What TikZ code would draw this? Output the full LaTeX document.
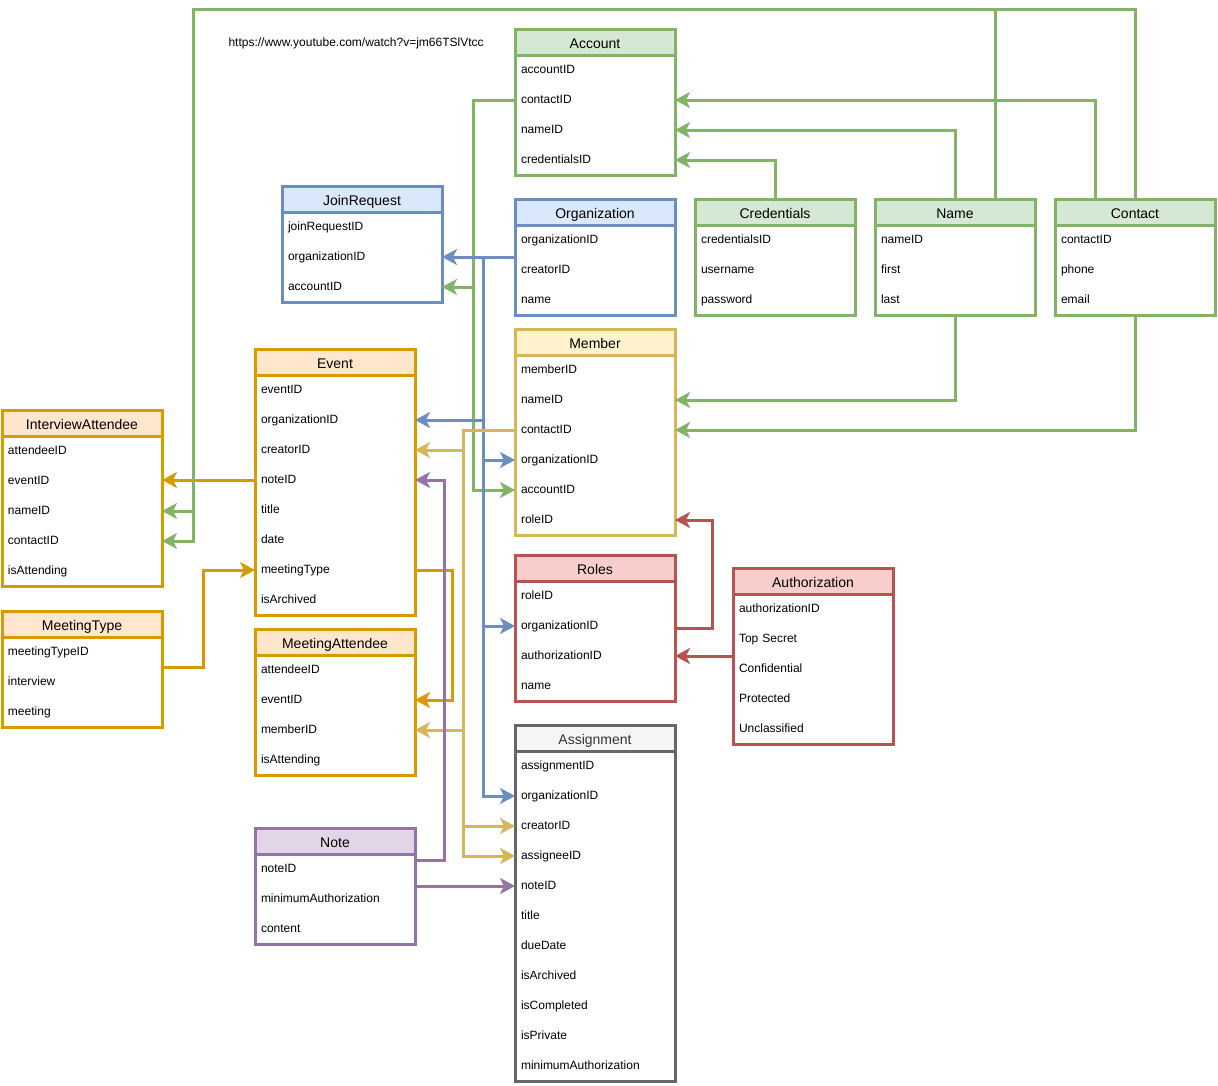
\documentclass[tikz,border=0pt]{standalone}
\usepackage{fontspec}
\setmainfont{Liberation Sans}
\usetikzlibrary{calc,arrows.meta}

\definecolor{grnLine}{HTML}{82B366}\definecolor{grnFill}{HTML}{D5E8D4}\colorlet{grnText}{black}
\definecolor{bluLine}{HTML}{6C8EBF}\definecolor{bluFill}{HTML}{DAE8FC}\colorlet{bluText}{black}
\definecolor{ylwLine}{HTML}{D6B656}\definecolor{ylwFill}{HTML}{FFF2CC}\colorlet{ylwText}{black}
\definecolor{ornLine}{HTML}{D79B00}\definecolor{ornFill}{HTML}{FFE6CC}\colorlet{ornText}{black}
\definecolor{redLine}{HTML}{B85450}\definecolor{redFill}{HTML}{F8CECC}\colorlet{redText}{black}
\definecolor{prpLine}{HTML}{9673A6}\definecolor{prpFill}{HTML}{E1D5E7}\colorlet{prpText}{black}
\definecolor{gryLine}{HTML}{666666}\definecolor{gryFill}{HTML}{F5F5F5}\definecolor{gryText}{HTML}{333333}

\tikzset{
  hdr/.style={draw=#1Line, fill=#1Fill, text=#1Text, line width=3pt, minimum width=160pt,
    minimum height=26pt, inner sep=0pt, outer sep=0pt, text height=12pt, text depth=0pt,
    font=\fontsize{14}{16}\selectfont},
  fld/.style={minimum width=160pt, minimum height=30pt, text width=148pt, inner xsep=6pt,
    inner ysep=0pt, outer sep=0pt, text height=9pt, text depth=3pt, align=left,
    font=\fontsize{12}{14}\selectfont},
  trunk/.style={draw=#1Line, line width=3pt},
  link/.style={trunk=#1, -{Stealth[length=15pt,width=16pt,inset=4pt]}}
}

% table: name, top left, colour, title, fields
\newcommand{\entity}[5]{%
  \node[hdr=#3, anchor=north west] (#1) at (#2) {#4};
  \foreach \fld [count=\i] in {#5} {
    \node[fld, anchor=north] (#1-\i) at ($(#1.south)+(0,{(\i-1)*30})$) {\fld};
    \xdef\nrows{\i}
  }
  \draw[line width=3pt, draw=#3Line] (#1.north west) rectangle (#1-\nrows.south east);
}

\begin{document}
\begin{tikzpicture}[x=1pt,y=-1pt]
\useasboundingbox (0,0) rectangle (1218,1085);

\node[anchor=west, font=\fontsize{12}{14}\selectfont] (url) at (225,43) {https://www.youtube.com/watch?v=jm66TSlVtcc};

% tables
\entity{account}{515,29}{grn}{Account}{accountID,contactID,nameID,credentialsID}
\entity{joinreq}{282,186}{blu}{JoinRequest}{joinRequestID,organizationID,accountID}
\entity{org}{515,199}{blu}{Organization}{organizationID,creatorID,name}
\entity{cred}{695,199}{grn}{Credentials}{credentialsID,username,password}
\entity{name}{875,199}{grn}{Name}{nameID,first,last}
\entity{contact}{1055,199}{grn}{Contact}{contactID,phone,email}
\entity{member}{515,329}{ylw}{Member}{memberID,nameID,contactID,organizationID,accountID,roleID}
\entity{event}{255,349}{orn}{Event}{eventID,organizationID,creatorID,noteID,title,date,meetingType,isArchived}
\entity{intatt}{2,410}{orn}{InterviewAttendee}{attendeeID,eventID,nameID,contactID,isAttending}
\entity{mtype}{2,611}{orn}{MeetingType}{meetingTypeID,interview,meeting}
\entity{meetatt}{255,629}{orn}{MeetingAttendee}{attendeeID,eventID,memberID,isAttending}
\entity{roles}{515,555}{red}{Roles}{roleID,organizationID,authorizationID,name}
\entity{auth}{733,568}{red}{Authorization}{authorizationID,Top Secret,Confidential,Protected,Unclassified}
\entity{assign}{515,725}{gry}{Assignment}{assignmentID,organizationID,creatorID,assigneeID,noteID,title,dueDate,isArchived,isCompleted,isPrivate,minimumAuthorization}
\entity{note}{255,828}{prp}{Note}{noteID,minimumAuthorization,content}

% bus lines
\coordinate (gbus) at (473,0);
\coordinate (bbus) at (483,0);
\coordinate (ybus) at (463,0);
\coordinate (gtop) at (193,9);

% green
\draw[link=grn] (account-2.west) -| (gbus |- joinreq-3) -- (joinreq-3.east);
\draw[link=grn] (gbus |- joinreq-3) |- (member-5.west);
\draw[link=grn] (cred.north) |- (account-4.east);
\draw[link=grn] (name.north) |- (account-3.east);
\draw[link=grn] ($(contact.north)+(-40,0)$) |- (account-2.east);
\draw[link=grn] ($(name.north)+(40,0)$) |- (gtop) |- (intatt-3.east);
\draw[link=grn] (contact.north) |- (gtop) |- (intatt-4.east);
\draw[link=grn] (name-3.south) |- (member-2.east);
\draw[link=grn] (contact-3.south) |- (member-3.east);

% blue
\draw[link=blu] (org.west |- joinreq-2) -- (joinreq-2.east);
\draw[link=blu] (bbus |- joinreq-2) |- (assign-2.west);
\draw[link=blu] (bbus |- event-2) -- (event-2.east);
\draw[link=blu] (bbus |- member-4) -- (member-4.west);
\draw[link=blu] (bbus |- roles-2) -- (roles-2.west);

% yellow
\draw[link=ylw] (member-3.west) -| (ybus |- assign-4) -- (assign-4.west);
\draw[link=ylw] (ybus |- event-3) -- (event-3.east);
\draw[link=ylw] (ybus |- meetatt-3) -- (meetatt-3.east);
\draw[link=ylw] (ybus |- assign-3) -- (assign-3.west);

% orange
\draw[link=orn] (event-4.west) -- (event-4.west -| intatt-2.east);
\draw[link=orn] (mtype-1.south east) -- ++(41,0) |- (event-7.west);
\draw[link=orn] (event-7.east) -- ++(37,0) |- (meetatt-2.east);

% purple
\draw[link=prp] ($(note-1.east)+(0,-9)$) -- ++(29,0) |- (event-4.east);
\draw[link=prp] (note.east |- assign-5) -- (assign-5.west);

% red
\draw[link=red] ($(roles-2.east)+(0,2)$) -- ++(37,0) |- (member-6.east);
\draw[link=red] (auth.west |- roles-3) -- (roles-3.east);
\end{tikzpicture}
\end{document}
